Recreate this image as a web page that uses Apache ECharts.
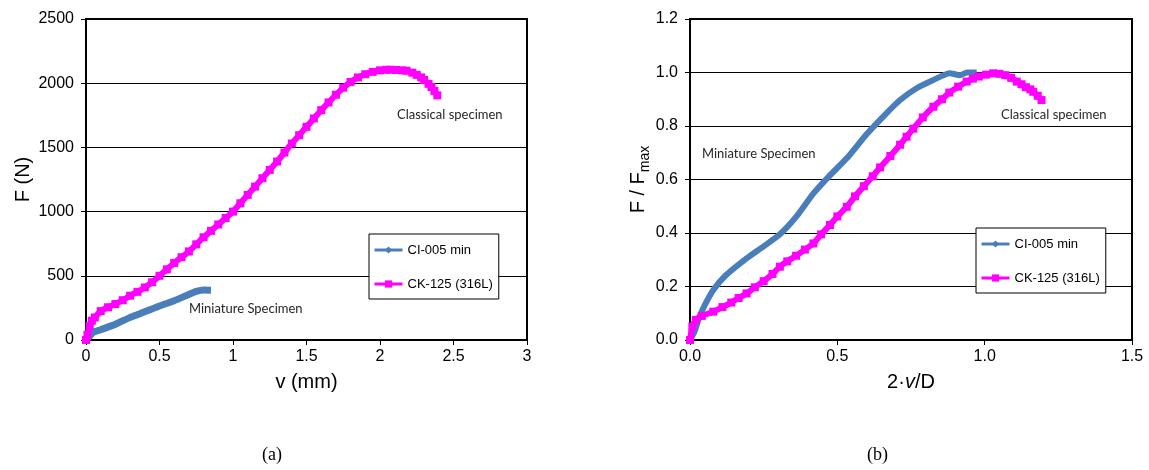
<!DOCTYPE html>
<html>
<head>
<meta charset="utf-8">
<script src="https://cdn.jsdelivr.net/npm/echarts/dist/echarts.min.js"></script>
<style>
html,body{margin:0;padding:0;background:#fff;}
#c{width:1149px;height:470px;}
</style>
</head>
<body>
<div id="c"></div>
<script>
// ---- Data ----
const seriesNames = ['CI-005 min', 'CK-125 (316L)'];

// Chart (a): F (N) vs v (mm)
const aBlueV = [0, 0.02, 0.05, 0.1, 0.2, 0.3, 0.4, 0.5, 0.6, 0.7, 0.75, 0.8, 0.85];
const aBlueF = [0, 25, 60, 80, 122, 176, 220, 265, 306, 355, 378, 389, 388];
const aPinkV = [0, 0.01, 0.025, 0.04, 0.06, 0.1, 0.15, 0.2, 0.25, 0.3, 0.35, 0.4, 0.45, 0.5, 0.55, 0.6, 0.65, 0.7, 0.75, 0.8, 0.85, 0.9, 0.95, 1.0, 1.05, 1.1, 1.15, 1.2, 1.25, 1.3, 1.35, 1.4, 1.45, 1.5, 1.55, 1.6, 1.65, 1.7, 1.75, 1.8, 1.85, 1.9, 1.95, 2.0, 2.04, 2.07, 2.11, 2.15, 2.18, 2.22, 2.25, 2.28, 2.3, 2.33, 2.35, 2.37, 2.39];
const aPinkF = [0, 40, 110, 150, 175, 225, 255, 280, 310, 345, 375, 409, 450, 500, 550, 600, 645, 690, 745, 800, 850, 900, 950, 1000, 1065, 1130, 1195, 1260, 1325, 1390, 1460, 1530, 1595, 1660, 1725, 1790, 1850, 1910, 1965, 2010, 2045, 2070, 2088, 2100, 2104, 2105, 2103, 2100, 2097, 2082, 2065, 2045, 2025, 1995, 1970, 1940, 1905];

// Chart (b): F/Fmax vs 2·v/D
const bBlueX = [0, 0.015, 0.03, 0.05, 0.079, 0.12, 0.192, 0.25, 0.305, 0.36, 0.419, 0.47, 0.532, 0.6, 0.66, 0.713, 0.769, 0.826, 0.882, 0.916, 0.94, 0.973];
const bBlueY = [0, 0.03, 0.08, 0.13, 0.187, 0.24, 0.305, 0.35, 0.395, 0.46, 0.548, 0.61, 0.679, 0.77, 0.84, 0.897, 0.941, 0.972, 0.997, 0.99, 1.0, 1.0];
const bPinkX = [0, 0.008, 0.02, 0.04, 0.079, 0.11, 0.14, 0.165, 0.192, 0.22, 0.25, 0.28, 0.305, 0.33, 0.36, 0.39, 0.419, 0.445, 0.475, 0.5, 0.532, 0.56, 0.59, 0.62, 0.645, 0.68, 0.713, 0.735, 0.758, 0.79, 0.826, 0.855, 0.88, 0.91, 0.939, 0.96, 0.98, 1.005, 1.029, 1.05, 1.07, 1.09, 1.109, 1.125, 1.14, 1.155, 1.165, 1.18, 1.193];
const bPinkY = [0, 0.05, 0.075, 0.09, 0.106, 0.123, 0.14, 0.157, 0.174, 0.197, 0.22, 0.247, 0.274, 0.294, 0.315, 0.338, 0.361, 0.395, 0.43, 0.462, 0.498, 0.537, 0.575, 0.612, 0.645, 0.688, 0.73, 0.76, 0.79, 0.832, 0.872, 0.9, 0.925, 0.947, 0.966, 0.977, 0.985, 0.992, 0.997, 0.995, 0.99, 0.98, 0.966, 0.956, 0.945, 0.937, 0.928, 0.913, 0.897];

// Axis ranges / tick steps
const aX = {min: 0, max: 3, step: 0.5};
const aY = {min: 0, max: 2500, step: 500};
const bX = {min: 0, max: 1.5, step: 0.5};
const bY = {min: 0, max: 1.2, step: 0.2};

const BLUE = '#4a7ebb';
const PINK = '#ff00ff';
const zip = (xs, ys) => xs.map((x, i) => [x, ys[i]]);

const chart = echarts.init(document.getElementById('c'), null, {renderer: 'canvas'});

const tickFont = {fontFamily: 'Liberation Sans, Arial, sans-serif', fontSize: 16, color: '#000'};
function xAxis(gi, r, fmt, name) {
  return {
    type: 'value', gridIndex: gi, min: r.min, max: r.max, interval: r.step,
    axisLine: {show: true, onZero: false, lineStyle: {color: '#000', width: 2}},
    axisTick: {show: true, length: 5, lineStyle: {color: '#000', width: 1}},
    splitLine: {show: false},
    axisLabel: Object.assign({margin: 9, formatter: fmt}, tickFont),
    name: name, nameLocation: 'middle', nameGap: 32,
    nameTextStyle: {fontFamily: 'Liberation Sans, Arial, sans-serif', fontSize: 20, color: '#000',
      rich: {i: {fontFamily: 'Liberation Sans, Arial, sans-serif', fontSize: 20, fontStyle: 'italic', color: '#000'}}}
  };
}
function yAxis(gi, r, fmt, name, gap) {
  return {
    type: 'value', gridIndex: gi, min: r.min, max: r.max, interval: r.step,
    axisLine: {show: true, onZero: false, lineStyle: {color: '#000', width: 2}},
    axisTick: {show: true, length: 5, lineStyle: {color: '#000', width: 1}},
    splitLine: {show: true, lineStyle: {color: '#000', width: 1}},
    axisLabel: Object.assign({margin: 12, formatter: fmt}, tickFont),
    name: name, nameLocation: 'middle', nameGap: gap,
    nameTextStyle: {fontFamily: 'Liberation Sans, Arial, sans-serif', fontSize: 20, color: '#000',
      rich: {
        a: {fontFamily: 'Liberation Sans, Arial, sans-serif', fontSize: 20, color: '#000'},
        s: {fontFamily: 'Liberation Sans, Arial, sans-serif', fontSize: 14, color: '#000', padding: [12, 0, 0, 0]}
      }}
  };
}
function legend(left, top) {
  return {
    data: seriesNames, orient: 'vertical', left: left, top: top,
    padding: [9, 6, 8, 4], itemGap: 20, itemWidth: 28, itemHeight: 9,
    backgroundColor: '#fff', borderColor: '#000', borderWidth: 1, borderRadius: 0,
    lineStyle: {width: 3},
    textStyle: {fontFamily: 'Liberation Sans, Arial, sans-serif', fontSize: 13, color: '#000', lineHeight: 14},
    selectedMode: false
  };
}
function blue(xi, data, w) {
  return {name: seriesNames[0], type: 'line', xAxisIndex: xi, yAxisIndex: xi, data: data,
    symbol: 'diamond', symbolSize: 9, showSymbol: false, smooth: 0.2,
    lineStyle: {color: BLUE, width: w}, itemStyle: {color: BLUE}, z: 3, animation: false};
}
function pink(xi, data, w) {
  return {name: seriesNames[1], type: 'line', xAxisIndex: xi, yAxisIndex: xi, data: data,
    symbol: 'rect', symbolSize: 8, showSymbol: true, smooth: 0.2,
    lineStyle: {color: PINK, width: w}, itemStyle: {color: PINK}, z: 4, animation: false};
}

const annFont = 'Lato, "Open Sans", sans-serif';
function ann(x, y, text) {
  return {type: 'text', left: x, top: y, z: 100,
    style: {text: text, fill: '#262626', font: '13px ' + annFont}};
}

chart.setOption({
  animation: false,
  backgroundColor: '#fff',
  grid: [
    {left: 86, top: 19, width: 441, height: 321, show: true, borderColor: '#000', borderWidth: 2, backgroundColor: '#fff'},
    {left: 690, top: 19, width: 442, height: 321, show: true, borderColor: '#000', borderWidth: 2, backgroundColor: '#fff'}
  ],
  xAxis: [
    xAxis(0, aX, v => String(v), 'v (mm)'),
    xAxis(1, bX, v => v.toFixed(1), '2·{i|v}/D')
  ],
  yAxis: [
    yAxis(0, aY, v => String(v), 'F (N)', 53),
    yAxis(1, bY, v => v.toFixed(1), '{a|F / F}{s|max}', 38)
  ],
  legend: [legend(369, 234), legend(976, 228)],
  series: [
    blue(0, zip(aBlueV, aBlueF), 7),
    pink(0, zip(aPinkV, aPinkF), 6),
    blue(1, zip(bBlueX, bBlueY), 6),
    pink(1, zip(bPinkX, bPinkY), 6)
  ],
  graphic: [
    ann(397, 108, 'Classical specimen'),
    ann(189, 302, 'Miniature Specimen'),
    ann(702, 147, 'Miniature Specimen'),
    ann(1001, 108, 'Classical specimen'),
    {type: 'text', left: 262, top: 446, style: {text: '(a)', fill: '#000', font: '18px "Liberation Serif", "Times New Roman", serif'}},
    {type: 'text', left: 867, top: 446, style: {text: '(b)', fill: '#000', font: '18px "Liberation Serif", "Times New Roman", serif'}}
  ]
});
</script>
</body>
</html>
